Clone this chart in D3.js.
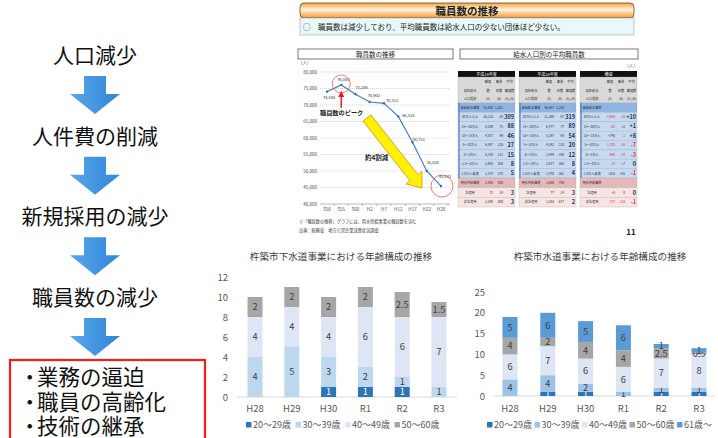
<!DOCTYPE html>
<html lang="ja">
<head>
<meta charset="UTF-8">
<title>職員数の推移と年齢構成</title>
<script src="https://d3js.org/d3.v7.min.js"></script>
<style>
body { margin: 0; background: #fff; }
svg { display: block; font-family: "Noto Sans CJK JP", "Noto Sans", sans-serif; }
</style>
</head>
<body>
<script>
// ---- data ----
const flowSteps = ["人口減少", "人件費の削減", "新規採用の減少", "職員数の減少"];
const issues = ["・業務の逼迫", "・職員の高齢化", "・技術の継承"];

const staffYears = ["S50", "S55", "S60", "H2", "H7", "H12", "H17", "H22", "H28"];
const staffCounts = [74044, 76084, 73286, 70902, 70513, 66538, 58733, 50020, 45441];

const tableHeads = ["平成18年度", "平成28年度", "増減"];
const headRows = [["", "職員", "事業", "平均"], ["現在給水", "数", "体数", "職員数"], ["人口規模", "(A)", "(B)", "(A)/(B)"]];
const blueLabels = ["末端給水事業", "30万人以上", "15〜30万人", "10〜15万人", "5〜10万人", "3〜5万人", "1.5〜3万人", "1.5万人未満"];
const pinkLabels = ["用水供給事業", "法適用", "非法適用"];
const table18 = [["50,900", "1,322", ""], ["26,225", "85", "309"], ["6,539", "75", "88"], ["4,557", "99", "46"], ["6,047", "226", "27"], ["3,145", "212", "15"], ["2,695", "356", "8"], ["1,147", "270", "5"], ["2,432", "300", ""], ["72", "24", "3"], ["2,340", "800", "3"]];
const table28 = [["46,657", "1,283", ""], ["21,269", "67", "319"], ["6,477", "77", "89"], ["5,297", "98", "54"], ["4,342", "210", "20"], ["2,449", "198", "12"], ["2,677", "363", "8"], ["1,470", "361", "4"], ["1,686", "700", ""], ["77", "24", "3"], ["1,583", "677", "2"]];
const tableDiff = [["", "", ""], ["-4,956", "-18", "+10"], ["-62", "+2", "+1"], ["+740", "-1", "+8"], ["-1,705", "-16", "-7"], ["-696", "-14", "-3"], ["-18", "+7", "0"], ["+323", "+91", "-1"], ["", "", ""], ["+5", "0", "0"], ["-757", "-123", "-1"]];

const years = ["H28", "H29", "H30", "R1", "R2", "R3"];
const ageGroups = ["20〜29歳", "30〜39歳", "40〜49歳", "50〜60歳", "61歳〜"];
// 下水道事業 (4 age groups)
const sewerSeries = [
  [0, 0, 1, 1, 1, 0],
  [4, 5, 3, 2, 1, 1],
  [4, 4, 4, 6, 6, 7],
  [2, 2, 2, 2, 2.5, 1.5]
];
// 水道事業 (5 age groups)
const waterSeries = [
  [0, 1, 1, 0, 1, 1],
  [4, 4, 2, 1, 1, 1],
  [6, 7, 6, 6, 7, 8],
  [4, 2, 4, 4, 2.5, 0.5],
  [5, 6, 5, 6, 1, 1]
];
const sewerTicks = [0, 2, 4, 6, 8, 10, 12];
const waterTicks = [0, 5, 10, 15, 20, 25];

// ---- drawing ----
const svg = d3.select("body").append("svg").attr("width", 718).attr("height", 438);
const defs = svg.append("defs");

// left flow column
const flowY = d3.scalePoint().domain(flowSteps).range([55, 297]);
const arrowGrad = defs.append("linearGradient").attr("id", "arrowGrad").attr("x1", 0).attr("x2", 1).attr("y1", 0).attr("y2", 0);
arrowGrad.append("stop").attr("offset", 0).attr("stop-color", "#5aa6ea");
arrowGrad.append("stop").attr("offset", 1).attr("stop-color", "#2f86d8");

svg.append("g").selectAll("text").data(flowSteps).join("text")
  .attr("x", 95).attr("y", d => flowY(d) + 8)
  .attr("text-anchor", "middle").attr("font-size", 21).attr("fill", "#111")
  .text(d => d);

const arrowTops = flowSteps.map(d => flowY(d) + 21);
svg.append("g").selectAll("path").data(arrowTops).join("path")
  .attr("d", t => {
    const h = 38, cx = 95;
    return `M${cx - 11},${t} L${cx + 11},${t} L${cx + 11},${t + 18} L${cx + 25},${t + 18} L${cx},${t + h} L${cx - 25},${t + 18} L${cx - 11},${t + 18} Z`;
  })
  .attr("fill", "url(#arrowGrad)");

svg.append("rect").attr("x", 10).attr("y", 360).attr("width", 195).attr("height", 90)
  .attr("fill", "none").attr("stroke", "#ff1a1a").attr("stroke-width", 2.2);
const issueText = svg.append("g").selectAll("text").data(issues).join("text")
  .attr("y", (d, i) => 385 + i * 24.5)
  .attr("font-size", 21.5).attr("fill", "#111");
issueText.append("tspan").attr("x", 19).text(d => d[0]);
issueText.append("tspan").attr("x", 37).text(d => d.slice(1));

// ---- top slide ----
const slide = svg.append("g");
const titleGrad = defs.append("linearGradient").attr("id", "titleGrad").attr("x1", 0).attr("x2", 0).attr("y1", 0).attr("y2", 1);
titleGrad.append("stop").attr("offset", 0).attr("stop-color", "#f5a640");
titleGrad.append("stop").attr("offset", 0.45).attr("stop-color", "#fff3da");
titleGrad.append("stop").attr("offset", 1).attr("stop-color", "#f29a2e");
slide.append("rect").attr("x", 300).attr("y", 3).attr("width", 334).attr("height", 15).attr("rx", 4)
  .attr("fill", "url(#titleGrad)").attr("stroke", "#6b4a1a").attr("stroke-width", 0.8);
slide.append("text").attr("x", 467).attr("y", 14.5).attr("text-anchor", "middle")
  .attr("font-size", 10.5).attr("font-weight", 700).attr("fill", "#222").text("職員数の推移");
slide.append("rect").attr("x", 300).attr("y", 18).attr("width", 334).attr("height", 17)
  .attr("fill", "#e9f8fb").attr("stroke", "#9aa7ad").attr("stroke-width", 0.6);
slide.append("text").attr("x", 303).attr("y", 29.5).attr("font-size", 7.5).attr("fill", "#222")
  .text("○　職員数は減少しており、平均職員数は給水人口の少ない団体ほど少ない。");

const headBoxes = [{x: 298, w: 155, t: "職員数の推移"}, {x: 460, w: 178, t: "給水人口別の平均職員数"}];
slide.append("g").selectAll("rect").data(headBoxes).join("rect")
  .attr("x", d => d.x).attr("y", 49).attr("width", d => d.w).attr("height", 10)
  .attr("fill", "#fff").attr("stroke", "#555").attr("stroke-width", 0.8);
slide.append("g").selectAll("text").data(headBoxes).join("text")
  .attr("x", d => d.x + d.w / 2).attr("y", 56.5).attr("text-anchor", "middle")
  .attr("font-size", 6.5).attr("fill", "#222").text(d => d.t);

// line chart
const lx = d3.scalePoint().domain(staffYears).range([327, 441]);
const ly = d3.scaleLinear().domain([40000, 80000]).range([204, 72]);
const lineTicks = d3.range(40000, 80001, 5000);
slide.append("text").attr("x", 301).attr("y", 64).attr("font-size", 4.5).attr("fill", "#444").text("(人)");
slide.append("g").selectAll("line").data(lineTicks).join("line")
  .attr("x1", 320).attr("x2", 450).attr("y1", d => ly(d)).attr("y2", d => ly(d))
  .attr("stroke", d => d === 40000 ? "#777" : "#aaa").attr("stroke-width", 0.5)
  .attr("stroke-dasharray", d => d === 40000 ? null : "1,1");
slide.append("g").selectAll("text").data(lineTicks).join("text")
  .attr("x", 317).attr("y", d => ly(d) + 1.5).attr("text-anchor", "end")
  .attr("font-size", 4.5).attr("fill", "#444").text(d3.format(","));
slide.append("g").selectAll("text").data(staffYears).join("text")
  .attr("x", d => lx(d)).attr("y", 211).attr("text-anchor", "middle")
  .attr("font-size", 4.5).attr("fill", "#444").text(d => d);
slide.append("g").selectAll("line").data(staffYears).join("line")
  .attr("x1", d => lx(d) + 7).attr("x2", d => lx(d) + 7).attr("y1", 204).attr("y2", 206)
  .attr("stroke", "#777").attr("stroke-width", 0.5);
slide.append("path").datum(staffCounts)
  .attr("d", d3.line().x((d, i) => lx(staffYears[i])).y(d => ly(d)))
  .attr("fill", "none").attr("stroke", "#4a7ebb").attr("stroke-width", 1.2);
slide.append("g").selectAll("circle").data(staffCounts).join("circle")
  .attr("cx", (d, i) => lx(staffYears[i])).attr("cy", d => ly(d)).attr("r", 1.2).attr("fill", "#3a6aa8");
const labelOff = [[2, 7], [2, -4], [6, -5], [4, -5], [8, -1], [10, 1], [6, -1], [6, -7], [4, -8]];
slide.append("g").selectAll("text").data(staffCounts).join("text")
  .attr("x", (d, i) => lx(staffYears[i]) + labelOff[i][0])
  .attr("y", (d, i) => ly(d) + labelOff[i][1])
  .attr("text-anchor", "middle").attr("font-size", 4).attr("fill", "#333")
  .text(d3.format(","));
// callouts
const peakI = staffCounts.indexOf(d3.max(staffCounts));
const lastI = staffCounts.length - 1;
slide.append("circle").attr("cx", lx(staffYears[peakI])).attr("cy", ly(staffCounts[peakI]) - 1).attr("r", 9)
  .attr("fill", "none").attr("stroke", "#e06060").attr("stroke-width", 0.8);
slide.append("circle").attr("cx", lx(staffYears[lastI]) + 1).attr("cy", ly(staffCounts[lastI])).attr("r", 11)
  .attr("fill", "none").attr("stroke", "#e06060").attr("stroke-width", 0.8);
const px = lx(staffYears[peakI]);
slide.append("line").attr("x1", px).attr("x2", px).attr("y1", 108).attr("y2", 96)
  .attr("stroke", "#e8141c").attr("stroke-width", 1.4);
slide.append("path").attr("d", `M${px - 3},${97} L${px + 3},${97} L${px},${91} Z`).attr("fill", "#e8141c");
slide.append("text").attr("x", 320).attr("y", 115).attr("font-size", 6.2).attr("font-weight", 700)
  .attr("fill", "#222").text("職員数のピーク");
// yellow arrow
{
  const x0 = 367, y0 = 118, x1 = 422, y1 = 188;
  const ang = Math.atan2(y1 - y0, x1 - x0), len = Math.hypot(x1 - x0, y1 - y0);
  const pts = [[0, -5], [len - 13, -5], [len - 13, -10], [len, 0], [len - 13, 10], [len - 13, 5], [0, 5]]
    .map(([u, v]) => [x0 + u * Math.cos(ang) - v * Math.sin(ang), y0 + u * Math.sin(ang) + v * Math.cos(ang)]);
  slide.append("path").attr("d", "M" + pts.join("L") + "Z")
    .attr("fill", "#fff200").attr("stroke", "#d39a1c").attr("stroke-width", 0.9);
}
slide.append("text").attr("x", 365).attr("y", 160).attr("font-size", 6.5).attr("font-weight", 700)
  .attr("fill", "#222").text("約4割減");
slide.append("text").attr("x", 299).attr("y", 223).attr("font-size", 4.2).attr("fill", "#333")
  .text("※「職員数の推移」グラフには、用水供給事業の職員数を含む");
slide.append("text").attr("x", 299).attr("y", 232).attr("font-size", 4.2).attr("fill", "#333")
  .text("出典：総務省　地方公営企業決算状況調査");
slide.append("text").attr("x", 631).attr("y", 235).attr("text-anchor", "middle")
  .attr("font-size", 8).attr("font-weight", 700).attr("fill", "#222").text("11");
slide.append("text").attr("x", 631).attr("y", 67).attr("text-anchor", "middle")
  .attr("font-size", 4.5).attr("fill", "#444").text("(人)");

// tables
const tableX = [458, 519, 580];
const tableBodies = [table18, table28, tableDiff];
const colW = [24, 12, 10, 11];
const rowLabels = blueLabels.concat(pinkLabels);
tableX.forEach((tx, ti) => {
  const g = slide.append("g");
  const colX = [tx, tx + colW[0], tx + colW[0] + colW[1], tx + colW[0] + colW[1] + colW[2]];
  g.append("rect").attr("x", tx).attr("y", 71).attr("width", 57).attr("height", 6).attr("fill", "#111");
  g.append("text").attr("x", tx + 28.5).attr("y", 75.7).attr("text-anchor", "middle")
    .attr("font-size", 4).attr("fill", "#fff").text(tableHeads[ti]);
  g.append("rect").attr("x", tx).attr("y", 77).attr("width", 57).attr("height", 26)
    .attr("fill", "#d9d9d9").attr("stroke", "#999").attr("stroke-width", 0.3);
  headRows.forEach((row, ri) => row.forEach((c, ci) => {
    g.append("text").attr("x", colX[ci] + colW[ci] / 2).attr("y", 83 + ri * 8.7)
      .attr("text-anchor", "middle").attr("font-size", 3.2).attr("fill", "#333").text(c);
  }));
  const body = tableBodies[ti];
  rowLabels.forEach((lab, ri) => {
    const blue = ri < blueLabels.length;
    const y = blue ? 103 + ri * 9.375 : 178 + (ri - blueLabels.length) * 9.67;
    const h = blue ? 9.375 : 9.67;
    const first = ri === 0 || ri === blueLabels.length;
    const fill = blue ? (first ? "#8db4e2" : "#c6d9f1") : (first ? "#e6b8b7" : "#f7e4e3");
    g.append("rect").attr("x", tx).attr("y", y).attr("width", 57).attr("height", h)
      .attr("fill", fill).attr("stroke", "#9aa") .attr("stroke-width", 0.3);
    g.append("text").attr("x", colX[0] + colW[0] / 2).attr("y", y + h / 2 + 1.2)
      .attr("text-anchor", "middle").attr("font-size", 3.2).attr("fill", "#333").text(lab);
    body[ri].forEach((v, ci) => {
      g.append("text").attr("x", colX[ci + 1] + colW[ci + 1] - 1).attr("y", y + h / 2 + (ci === 2 ? 2 : 1.2))
        .attr("text-anchor", "end")
        .attr("font-size", ci === 2 ? 5.5 : 3.2).attr("font-weight", ci === 2 ? 700 : 400)
        .attr("fill", ti === 2 && v.startsWith("-") ? "#e0304a" : (ci === 2 ? "#1f2f5a" : "#333"))
        .text(v);
    });
  });
  g.append("line").attr("x1", tx + 1).attr("x2", tx + 1).attr("y1", 103).attr("y2", 178)
    .attr("stroke", "#3f6fb5").attr("stroke-width", 1);
});

// ---- stacked bar charts ----
function barChart(opt) {
  const g = svg.append("g");
  const x = d3.scaleBand().domain(years).range(opt.xr).paddingInner(opt.pi).paddingOuter(opt.po);
  const y = d3.scaleLinear().domain([0, d3.max(opt.ticks)]).range(opt.yr);
  const keys = opt.series.map((s, i) => i);
  const rows = years.map((yr, j) => { const o = {year: yr}; keys.forEach(k => o[k] = opt.series[k][j]); return o; });
  const stack = d3.stack().keys(keys)(rows);

  g.append("text").attr("x", opt.titleX).attr("y", 260).attr("text-anchor", "middle")
    .attr("font-size", 9.6).attr("fill", "#404040").text(opt.title);
  g.append("g").selectAll("text").data(opt.ticks).join("text")
    .attr("x", opt.xr[0] - 9).attr("y", d => y(d) + 3.5).attr("text-anchor", "end")
    .attr("font-size", 9.5).attr("fill", "#595959").text(d => d);
  g.append("line").attr("x1", opt.xr[0]).attr("x2", opt.xr[1]).attr("y1", y(0)).attr("y2", y(0))
    .attr("stroke", "#d9d9d9").attr("stroke-width", 1);

  stack.forEach((layer, k) => {
    const lg = g.append("g");
    lg.selectAll("rect").data(layer).join("rect")
      .attr("x", d => x(d.data.year)).attr("width", x.bandwidth())
      .attr("y", d => y(d[1])).attr("height", d => y(d[0]) - y(d[1]))
      .attr("fill", opt.colors[k]);
    lg.selectAll("text").data(layer.filter(d => d[1] - d[0] > 0)).join("text")
      .attr("x", d => x(d.data.year) + x.bandwidth() / 2)
      .attr("y", d => (y(d[0]) + y(d[1])) / 2 + 3.3)
      .attr("text-anchor", "middle").attr("font-size", 9.2)
      .attr("fill", k === 0 ? "#fff" : "#404040")
      .text(d => d[1] - d[0]);
  });

  g.append("g").selectAll("text").data(years).join("text")
    .attr("x", d => x(d) + x.bandwidth() / 2).attr("y", 412).attr("text-anchor", "middle")
    .attr("font-size", 9.5).attr("fill", "#595959").text(d => d);

  const legX = d3.scaleLinear().domain([0, 1]).range([opt.legX, opt.legX + opt.legStep]);
  const leg = g.append("g").selectAll("g").data(keys).join("g")
    .attr("transform", k => `translate(${legX(k)},428)`);
  leg.append("rect").attr("x", 0).attr("y", -6).attr("width", 5.5).attr("height", 5.5).attr("fill", k => opt.colors[k]);
  leg.append("text").attr("x", 7).attr("y", 0).attr("font-size", 9).attr("fill", "#595959")
    .text(k => ageGroups[k]);
}

barChart({
  title: "杵築市下水道事業における年齢構成の推移", titleX: 341,
  series: sewerSeries, ticks: sewerTicks,
  xr: [237, 457], pi: 0.592, po: 0.286, yr: [397, 277],
  colors: ["#2e75b6", "#bdd7ee", "#dee5f4", "#a6a6a6"],
  legX: 246, legStep: 49.5
});
barChart({
  title: "杵築市水道事業における年齢構成の推移", titleX: 600,
  series: waterSeries, ticks: waterTicks,
  xr: [494, 715], pi: 0.603, po: 0.2245, yr: [396, 292],
  colors: ["#2e75b6", "#9dc3e6", "#dee5f4", "#a6a6a6", "#5b9bd5"],
  legX: 487, legStep: 47.5
});
</script>
</body>
</html>
